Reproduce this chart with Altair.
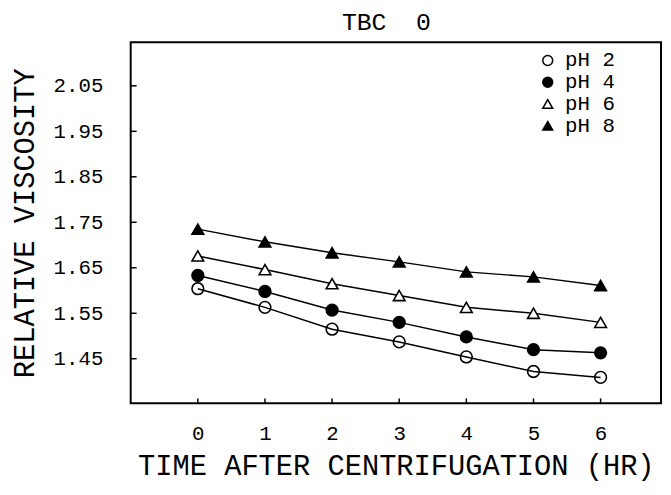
import altair as alt
import pandas as pd

# ---- data ----
hours = [0, 1, 2, 3, 4, 5, 6]
series = ["pH 2", "pH 4", "pH 6", "pH 8"]
ph2 = [1.604, 1.563, 1.515, 1.487, 1.454, 1.422, 1.409]
ph4 = [1.633, 1.598, 1.557, 1.530, 1.498, 1.470, 1.463]
ph6 = [1.676, 1.646, 1.615, 1.589, 1.563, 1.550, 1.530]
ph8 = [1.735, 1.707, 1.683, 1.663, 1.641, 1.630, 1.611]
y_ticks = [1.45, 1.55, 1.65, 1.75, 1.85, 1.95, 2.05]
x_ticks = hours
shapes = ["circle", "circle", "triangle-up", "triangle-up"]
fills = ["transparent", "black", "white", "black"]
strokes = ["black", "black", "black", "black"]

rows = []
for name, vals in zip(series, [ph2, ph4, ph6, ph8]):
    for h, v in zip(hours, vals):
        rows.append({"hour": h, "visc": v, "series": name})
df = pd.DataFrame(rows)
xt = pd.DataFrame({"t": x_ticks})
yt = pd.DataFrame({"t": y_ticks})

FONT = "Liberation Mono"
W, H = 536, 365

xscale = alt.Scale(domain=[-1, 6.9], nice=False, zero=False)
yscale = alt.Scale(domain=[1.352, 2.146], nice=False, zero=False)

x_axis = alt.Axis(
    values=x_ticks, format="d", grid=False, domain=False, ticks=False,
    labelPadding=20, labelFont=FONT, labelFontSize=21, labelColor="black",
    title="TIME AFTER CENTRIFUGATION (HR)", titleFont=FONT, titleFontSize=29,
    titleFontWeight="normal", titleColor="black", titleY=63, titleBaseline="middle",
)
top_axis = alt.Axis(
    orient="top", labels=False, ticks=False, domain=False, grid=False,
    title="TBC\u00a0\u00a00", titleFont=FONT, titleFontSize=25,
    titleFontWeight="normal", titleColor="black",
    titleX=258, titleY=-21, titleBaseline="middle", titleAlign="center",
)
y_axis = alt.Axis(
    values=y_ticks, format=".2f", grid=False, domain=False, ticks=False,
    labelPadding=28, labelFont=FONT, labelFontSize=21, labelColor="black",
    title="RELATIVE VISCOSITY", titleFont=FONT, titleFontSize=29,
    titleFontWeight="normal", titleColor="black", titleX=-107,
    titleBaseline="middle", titleAlign="center", titleAngle=270,
)

legend = alt.Legend(
    title=None, orient="none", legendX=411, legendY=8, padding=0,
    symbolSize=100, symbolStrokeWidth=1.5, symbolStrokeColor="black",
    labelFont=FONT, labelFontSize=21, labelColor="black",
    labelOffset=7, rowPadding=0,
)

lines = alt.Chart(df).mark_line(color="black", strokeWidth=1.5).encode(
    x=alt.X("hour:Q", scale=xscale, axis=x_axis),
    y=alt.Y("visc:Q", scale=yscale, axis=y_axis),
    detail="series:N",
)

points = alt.Chart(df).mark_point(filled=True, strokeWidth=1.6, opacity=1, size=140).encode(
    x=alt.X("hour:Q", scale=xscale, axis=None),
    y=alt.Y("visc:Q", scale=yscale, axis=y_axis),
    shape=alt.Shape("series:N", scale=alt.Scale(domain=series, range=shapes), legend=legend),
    fill=alt.Fill("series:N", scale=alt.Scale(domain=series, range=fills), legend=legend),
    stroke=alt.Stroke("series:N", scale=alt.Scale(domain=series, range=strokes), legend=legend),
)

# inward tick marks on the frame, placed through the scales
xticks = alt.Chart(xt).mark_rule(color="black", strokeWidth=1.5).encode(
    x=alt.X("t:Q", scale=xscale, axis=top_axis), y=alt.value(H), y2=alt.value(H - 5)
)
yticks = alt.Chart(yt).mark_rule(color="black", strokeWidth=1.5).encode(
    y=alt.Y("t:Q", scale=yscale, axis=y_axis), x=alt.value(0), x2=alt.value(6)
)

base = alt.layer(lines, xticks, yticks, points).resolve_axis(x="independent")

chart = base.properties(
    width=W, height=H,
    background="white",
    autosize=alt.AutoSizeParams(type="none"),
    padding={"left": 124, "top": 32, "right": 2, "bottom": 80},
).configure_view(stroke="black", strokeWidth=2)

chart.save("out.html", embed_options={"renderer": "svg", "actions": False})
